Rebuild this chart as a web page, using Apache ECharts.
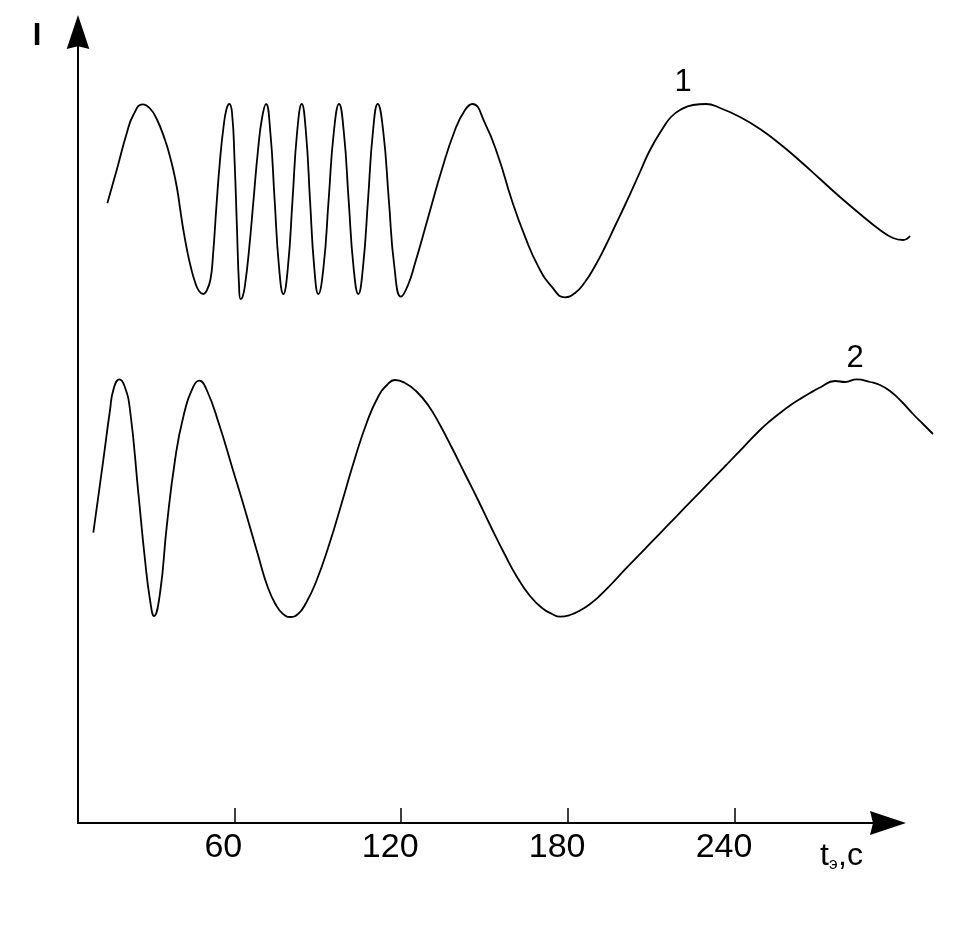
<!DOCTYPE html>
<html><head><meta charset="utf-8">
<script src="https://cdn.jsdelivr.net/npm/echarts@6/dist/echarts.min.js"></script>
<style>html,body{margin:0;padding:0;background:#fff}#c{width:967px;height:927px}</style>
</head><body><div id="c"></div>
<script>
// x-axis tick labels (t, s)
const xTicks = [60, 120, 180, 240];

// Curve 1: time (s) and intensity (arbitrary units)
const curve1T = [14.34,17.72,21.32,23.69,27.07,29.69,32.10,35.08,36.88,38.32,39.50,40.47,41.55,42.99,44.43,45.87,47.30,48.85,50.18,51.44,52.34,53.59,54.85,56.11,57.19,58.20,59.17,60.07,60.96,61.68,62.22,62.94,63.84,65.28,66.89,68.51,69.95,71.39,72.93,74.48,76.06,77.61,79.26,80.91,82.57,84.22,85.73,87.20,88.71,90.19,92.06,93.89,95.76,97.63,99.35,101.08,102.84,104.57,106.25,108.05,109.81,111.54,113.55,115.53,117.54,119.91,122.43,124.95,129.73,134.54,139.32,142.92,145.54,150.11,154.89,159.71,164.49,169.27,174.08,178.86,182.46,186.05,189.65,193.24,196.84,200.43,205.82,209.42,214.09,216.96,220.20,224.87,229.55,234.58,241.77,248.96,256.15,263.34,270.53,277.71,284.90,292.09,296.77,300.36,302.88];
const curve1I = [619.7,653,689.7,708,718.7,714.5,704,683,666.3,649.7,633,615,595,573,555,541,532,529,533,544,568,618,663,696,714,719,710,663,593,538,524,526,538,573,623,673,705,719,691,623,556,529,556,623,691,719,691,623,556,529,556,623,691,719,691,623,556,529,556,623,691,719,691,623,556,526.3,538,559.7,606.3,653,693,713,719,699.7,666.3,623,586.3,556.3,536.3,525.7,530,541,557,576,597,618,651,673,695,706,713,718,719,715,706,694,679,662,644,626,609,593,585,583,587];

// Curve 2: time (s) and intensity (arbitrary units)
const curve2T = [9.31,12.90,15.31,16.50,18.66,20.52,22.50,25.49,27.89,29.69,31.13,33.29,35.69,38.68,41.66,45.26,47.41,50.07,54.60,59.17,63.84,68.51,72.11,74.98,77.50,80.01,82.89,85.77,89.36,94.03,98.71,103.38,107.69,111.65,114.88,117.76,121.35,125.31,129.62,133.93,138.25,142.92,147.59,152.26,156.94,161.61,166.28,170.60,174.19,177.07,180.66,184.26,187.85,191.44,195.04,201.04,207.01,213.01,219.01,224.98,230.99,236.99,242.95,248.96,252.55,256.15,259.74,263.34,266.93,270.53,275.92,279.51,283.72,288.50,292.09,295.69,300.00,303.95,307.55,311.14];
const curve2I = [290.3,363,413,433,443.7,437,413,330,263,223,207,230,296.3,363,406.3,436.3,442.3,433,398,356,313,268,235,218,209,206,209,220,241,278,321,365,401,426,438,443,440,432,418,398,375,349,323,296,270,246,227,215,209,206.3,208,212.5,219,227.5,237.5,255.3,272.4,289.7,306.9,324.1,341.3,358.5,375.7,393,402,410,417.5,424,430,435.5,442,441,443.7,441,438,432,421,409,399,389];

const curveLabels = ['1', '2'];
const yName = 'I';

const zip = (a, b) => a.map((v, i) => [v, b[i]]);
const FONT = '"Liberation Sans", Arial, sans-serif';
const arrowPath = 'path://M12,0 L24,36 L12,33 L0,36 Z';

const chart = echarts.init(document.getElementById('c'), null, {renderer: 'canvas'});
chart.setOption({
  animation: false,
  backgroundColor: '#fff',
  grid: [
    {left: 78, right: 79, top: 32, bottom: 104, containLabel: false},
    {left: 78, right: 31.6, top: 32, bottom: 104, containLabel: false}
  ],
  xAxis: [{
    gridIndex: 0, type: 'value', min: 3.8, max: 295,
    splitLine: {show: false},
    axisLine: {show: true, onZero: false, symbol: ['none', arrowPath], symbolSize: [25, 36],
      lineStyle: {color: '#000', width: 2}},
    axisTick: {show: true, inside: true, length: 15, customValues: xTicks,
      lineStyle: {color: '#000', width: 1.5}},
    axisLabel: {show: true, customValues: xTicks, color: '#000', fontSize: 34, fontFamily: FONT,
      margin: 8, padding: [0, 22, 0, 0]}
  }, {
    gridIndex: 1, type: 'value', min: 3.8, max: 312, show: false
  }],
  yAxis: [{
    gridIndex: 0, type: 'value', min: 0, max: 791,
    splitLine: {show: false},
    axisLine: {show: true, symbol: ['none', arrowPath], symbolSize: [24, 34],
      lineStyle: {color: '#000', width: 2}},
    axisTick: {show: false},
    axisLabel: {show: false}
  }, {
    gridIndex: 1, type: 'value', min: 0, max: 791, show: false
  }],
  series: [
    {type: 'line', xAxisIndex: 1, yAxisIndex: 1, data: zip(curve1T, curve1I), smooth: 0.5,
      showSymbol: false, clip: false, lineStyle: {color: '#000', width: 1.8}},
    {type: 'line', xAxisIndex: 1, yAxisIndex: 1, data: zip(curve2T, curve2I), smooth: 0.5,
      showSymbol: false, clip: false, lineStyle: {color: '#000', width: 1.8}}
  ],
  graphic: [
    {type: 'text', style: {text: yName, x: 37, y: 36, align: 'center', verticalAlign: 'middle', font: 'bold 31px ' + FONT, fill: '#000'}},
    {type: 'text', style: {text: curveLabels[0], x: 683, y: 82, align: 'center', verticalAlign: 'middle', font: '31px ' + FONT, fill: '#000'}},
    {type: 'text', style: {text: curveLabels[1], x: 855, y: 358, align: 'center', verticalAlign: 'middle', font: '31px ' + FONT, fill: '#000'}},
    {type: 'text', style: {text: 't', x: 820, y: 856, align: 'left', verticalAlign: 'middle', font: '32px ' + FONT, fill: '#000'}},
    {type: 'text', style: {text: 'э', x: 829, y: 864, align: 'left', verticalAlign: 'middle', font: '17px ' + FONT, fill: '#000'}},
    {type: 'text', style: {text: ',c', x: 838, y: 856, align: 'left', verticalAlign: 'middle', font: '32px ' + FONT, fill: '#000'}}
  ]
});
</script>
</body></html>
